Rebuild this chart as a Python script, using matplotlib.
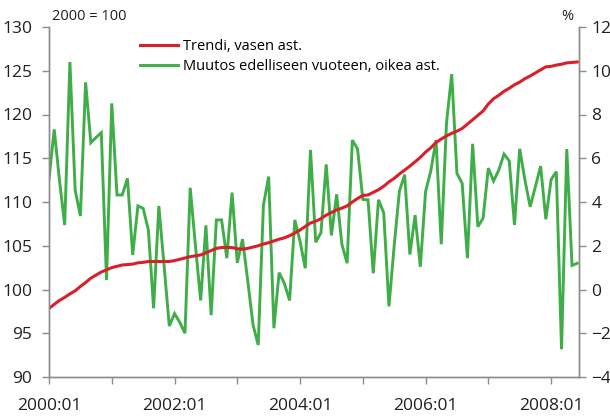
import matplotlib
matplotlib.use("Agg")
import matplotlib.pyplot as plt
from matplotlib.lines import Line2D

plt.rcParams['font.family'] = ['Open Sans', 'DejaVu Sans']

# monthly data 2000:01 ...
trend = [97.85, 98.3, 98.75, 99.1, 99.5, 99.85, 100.35, 100.8, 101.3, 101.65,
         102.0, 102.25, 102.5, 102.65, 102.8, 102.85, 102.9, 103.05, 103.1, 103.2,
         103.2, 103.2, 103.2, 103.2, 103.3, 103.45, 103.6, 103.75, 103.85, 103.95,
         104.2, 104.45, 104.7, 104.8, 104.8, 104.8, 104.65, 104.6, 104.7, 104.85,
         105.0, 105.2, 105.35, 105.55, 105.75, 105.9, 106.15, 106.45, 106.8, 107.2,
         107.6, 107.8, 108.1, 108.5, 108.8, 109.1, 109.3, 109.55, 110.0, 110.4,
         110.75, 110.8, 111.1, 111.4, 111.8, 112.3, 112.7, 113.2, 113.65, 114.1,
         114.6, 115.1, 115.7, 116.2, 116.8, 117.2, 117.55, 117.85, 118.1, 118.4,
         118.9, 119.4, 119.9, 120.4, 121.2, 121.8, 122.2, 122.65, 123.0, 123.4,
         123.7, 124.1, 124.4, 124.75, 125.1, 125.45, 125.5, 125.65, 125.75, 125.9,
         125.95, 126.0]

change = [5.05, 7.32, 5.0, 2.95, 10.4, 4.55, 3.36, 9.47, 6.71, 6.95,
          7.17, 0.43, 8.51, 4.32, 4.32, 5.08, 1.58, 3.82, 3.71, 2.72,
          -0.86, 3.82, 1.1, -1.67, -1.1, -1.5, -2.0, 4.65, 2.0, -0.5,
          2.93, -1.17, 3.18, 3.18, 1.43, 4.43, 1.22, 2.3, 0.4, -1.6,
          -2.54, 3.86, 5.16, -1.77, 0.77, 0.28, -0.5, 3.18, 2.2, 0.97,
          6.38, 2.16, 2.6, 5.72, 2.47, 4.35, 2.07, 1.2, 6.83, 6.42,
          4.12, 4.1, 0.74, 4.1, 3.5, -0.77, 2.0, 4.5, 5.25, 1.6,
          3.4, 1.04, 4.47, 5.42, 6.83, 2.07, 7.6, 9.85, 5.31, 4.85,
          1.43, 6.66, 2.87, 3.26, 5.55, 4.96, 5.46, 6.19, 5.88, 2.95,
          6.43, 5.0, 3.78, 4.7, 5.64, 3.21, 5.02, 5.39, -2.73, 6.42,
          1.1, 1.2]

xlabels = ['2000:01', '', '2002:01', '', '2004:01', '', '2006:01', '', '2008:01']
labels = ['Trendi, vasen ast.', 'Muutos edelliseen vuoteen, oikea ast.']

red = '#d9202a'
green = '#3fae49'
gray = '#8c8c8c'
txt = '#231f20'

x = list(range(len(trend)))

fig = plt.figure(figsize=(6.1, 4.18), dpi=100)
ax = fig.add_axes([49 / 610, 1 - 377 / 418, 529.8 / 610, 350 / 418])
ax2 = ax.twinx()
ax.set_zorder(ax2.get_zorder() + 1)
ax.patch.set_visible(False)

ax2.plot(x, change, color=green, lw=2.1, solid_joinstyle='miter')
ax.plot(x, trend, color=red, lw=2.2)

ax.set_xlim(0, 101.3)
ax.set_ylim(90, 130)
ax2.set_ylim(-4, 12)
ax.set_yticks(range(90, 131, 5))
ax2.set_yticks(range(-4, 13, 2))
ax.set_xticks(range(0, 97, 12))
ax.set_xticklabels(xlabels)

for a in (ax, ax2):
    a.spines['top'].set_visible(False)
    for s in ('left', 'right', 'bottom'):
        a.spines[s].set_color(gray)
        a.spines[s].set_linewidth(1.0)
    a.tick_params(colors=gray, labelcolor=txt, labelsize=12.5, length=5, width=1)

ax.tick_params(axis='y', pad=7)
ax2.tick_params(axis='y', pad=4)
ax.tick_params(axis='x', pad=10)

handles = [Line2D([], [], color=red, lw=2.2), Line2D([], [], color=green, lw=2.1)]
ax.legend(handles, labels, loc='upper left', bbox_to_anchor=(0.1718, 0.965),
          frameon=False, fontsize=10.5, borderaxespad=0, borderpad=0,
          handlelength=2.6, handletextpad=0.35, labelspacing=0.3)

fig.text(52 / 610, 1 - 16 / 418, '2000 = 100', fontsize=10.5, color=txt, va='center')
fig.text(573 / 610, 1 - 16 / 418, '%', fontsize=10.5, color=txt, va='center', ha='right')

fig.savefig('out.png', dpi=100)
